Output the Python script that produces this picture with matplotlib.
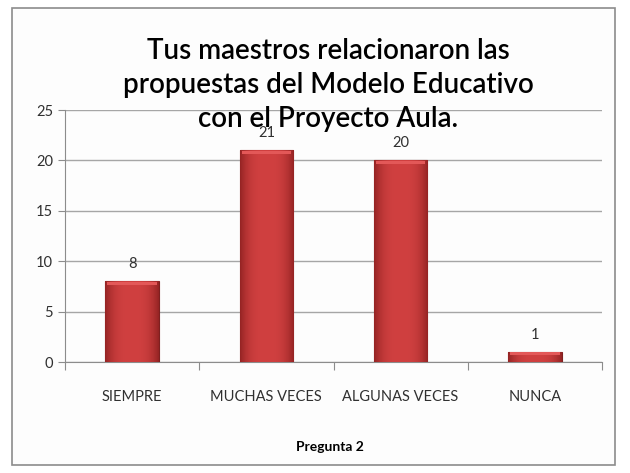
import numpy as np
import matplotlib.pyplot as plt
from matplotlib.patches import Rectangle
from matplotlib.colors import to_rgb

categorias = ['SIEMPRE', 'MUCHAS VECES', 'ALGUNAS VECES', 'NUNCA']
respuestas = [8, 21, 20, 1]
titulo = 'Tus maestros relacionaron las\npropuestas del Modelo Educativo\ncon el Proyecto Aula.'

plt.rcParams['font.family'] = ['Lato', 'DejaVu Sans']

fig = plt.figure(figsize=(6.3, 4.73), dpi=100, facecolor='white')
marco = Rectangle((12 / 630, 8 / 473), 603 / 630, 457 / 473, transform=fig.transFigure,
                  facecolor='#fdfdfd', edgecolor='#8c8c8c', linewidth=1.2, zorder=-1)
fig.add_artist(marco)

ax = fig.add_axes([65 / 630, 111 / 473, 537 / 630, 252 / 473])
ax.set_facecolor('none')
x = range(len(categorias))
bars = ax.bar(x, respuestas, width=0.4, color='#c23b3b', edgecolor='#7e2020', linewidth=0.8, zorder=3)

# degradado horizontal: bordes oscuros, centro más claro
claro = np.array(to_rgb('#d04040'))
oscuro = np.array(to_rgb('#962424'))
t = np.linspace(-1, 1, 60)
peso = np.clip(np.abs(t) ** 3, 0, 1)[None, :, None]
grad = claro * (1 - peso) + oscuro * peso

for b, v in zip(bars, respuestas):
    x0, x1 = b.get_x(), b.get_x() + b.get_width()
    im = ax.imshow(grad, extent=(x0, x1, 0, v), aspect='auto', zorder=3.5, interpolation='bilinear')
    im.set_clip_path(b)
    # brillo en la parte superior de cada barra
    alto = 0.35 if v > 1 else 0.3
    ax.add_patch(Rectangle((x0 + 0.015, v - alto - 0.05), b.get_width() - 0.03, alto,
                           facecolor='#e35858', edgecolor='none', zorder=4))
    ax.text((x0 + x1) / 2, v + 1.0, str(v), ha='center', va='bottom',
            fontsize=10.5, color='#303030', zorder=5)

ax.set_xlim(-0.5, 3.5)
ax.set_ylim(0, 25)
ax.set_yticks(range(0, 26, 5))
ax.yaxis.grid(True, color='#a6a6a6', linewidth=1)
ax.set_axisbelow(True)
ax.set_xticks([i - 0.5 for i in range(5)], minor=False)
ax.set_xticklabels([])
ax.set_xticks(list(x), minor=True)
ax.set_xticklabels(categorias, minor=True)
ax.tick_params(axis='x', which='major', length=6, color='#8c8c8c', direction='out')
ax.tick_params(axis='x', which='minor', length=0, pad=20, labelsize=10.5, labelcolor='#303030')
ax.tick_params(axis='y', length=5, color='#8c8c8c', labelsize=10.5, labelcolor='#303030')
for s in ['top', 'right']:
    ax.spines[s].set_visible(False)
ax.spines['left'].set_color('#8c8c8c')
ax.spines['bottom'].set_color('#8c8c8c')

fig.text(328 / 630, 1 - 85 / 473, titulo, ha='center', va='center', fontsize=20,
         fontweight='semibold', linespacing=1.4, color='black', zorder=10)
fig.text(330 / 630, 1 - 447 / 473, 'Pregunta 2', ha='center', va='center', fontsize=10,
         fontweight='bold', color='black')

fig.savefig('out.png', dpi=100)
